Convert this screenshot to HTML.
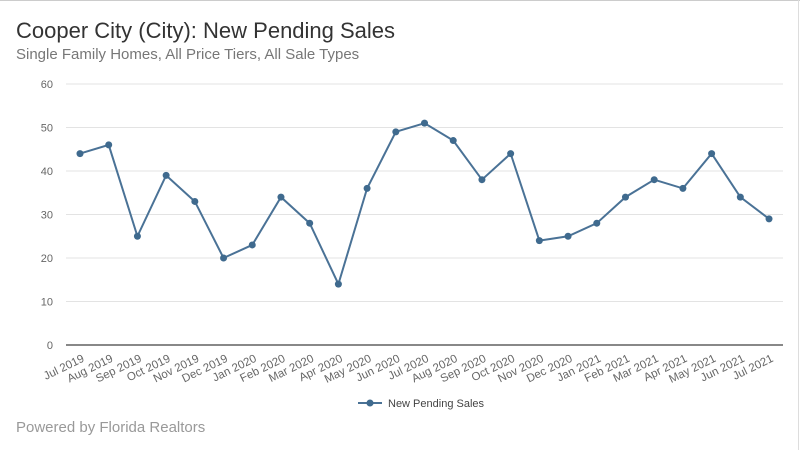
<!DOCTYPE html>
<html><head><meta charset="utf-8"><style>
body{margin:0;background:#fff;}
svg{display:block;font-family:"Liberation Sans",sans-serif;}
</style></head><body>
<svg id="c" width="800" height="450" viewBox="0 0 800 450">
<rect x="0" y="0" width="800" height="450" fill="#fff"/>
<line x1="0" y1="0.5" x2="800" y2="0.5" stroke="#ccc"/>
<line x1="798.5" y1="0" x2="798.5" y2="450" stroke="#ddd"/>
<text x="16" y="38" font-size="22" fill="#333">Cooper City (City): New Pending Sales</text>
<text x="16" y="59" font-size="15" fill="#777">Single Family Homes, All Price Tiers, All Sale Types</text>
<text x="16" y="432" font-size="15" fill="#999">Powered by Florida Realtors</text>
<g id="g"></g>
</svg>
<script>
var d=[44,46,25,39,33,20,23,34,28,14,36,49,51,47,38,44,24,25,28,34,38,36,44,34,29];
var m=["Jul","Aug","Sep","Oct","Nov","Dec","Jan","Feb","Mar","Apr","May","Jun"];
var s='';
function Y(v){return 345-v*4.35;}
for(var i=0;i<=6;i++){var y=Y(i*10);
 s+='<line x1="66" x2="783" y1="'+y+'" y2="'+y+'" stroke="'+(i?'#e3e3e3':'#888')+'" stroke-width="'+(i?1:2)+'"/>';
 s+='<text x="53" y="'+(y+4)+'" font-size="11" fill="#666" text-anchor="end">'+(i*10)+'</text>';}
var pts=[];
for(var i=0;i<d.length;i++){var x=80+i*28.71;pts.push(x+','+Y(d[i]));
 var mo=m[i%12], yr=2019+Math.floor((i+6)/12);
 s+='<text transform="translate('+(x+5)+',361) rotate(-26)" font-size="11.5" fill="#666" text-anchor="end">'+mo+' '+yr+'</text>';}
s+='<polyline points="'+pts.join(' ')+'" fill="none" stroke="#4a7296" stroke-width="2"/>';
pts.forEach(function(p){var a=p.split(',');s+='<circle cx="'+a[0]+'" cy="'+a[1]+'" r="3.5" fill="#3f6a8e"/>';});
s+='<line x1="358" x2="382" y1="403" y2="403" stroke="#4a7296" stroke-width="2"/><circle cx="370" cy="403" r="3.5" fill="#3f6a8e"/>';
s+='<text x="388" y="407" font-size="11" fill="#444">New Pending Sales</text>';
document.getElementById('g').innerHTML=s;
</script>
</body></html>
